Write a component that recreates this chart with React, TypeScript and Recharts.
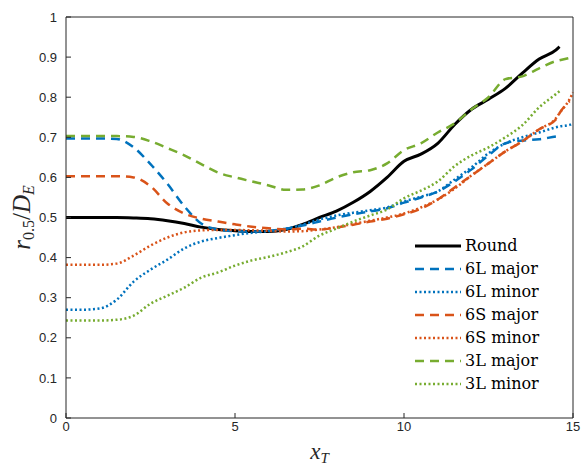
import React from 'react';
import { LineChart, Line, XAxis, YAxis } from 'recharts';

// x_T positions where the profiles were sampled
const xT = [0, 0.5, 1, 1.5, 2, 2.5, 3, 3.5, 4, 4.5, 5, 5.5, 6, 6.5, 7, 7.5, 8, 8.5, 9, 9.5, 10, 10.5, 11, 11.5, 12, 12.5, 13, 13.5, 14, 14.5, 14.6, 14.9, 15];

const round = [0.5, 0.5, 0.5, 0.5, 0.499, 0.497, 0.492, 0.485, 0.476, 0.47, 0.467, 0.465, 0.465, 0.47, 0.483, 0.5, 0.516, 0.538, 0.565, 0.6, 0.64, 0.658, 0.685, 0.732, 0.77, 0.795, 0.822, 0.86, 0.895, 0.918, 0.926, null, null];
const sixLMajor = [0.697, 0.697, 0.697, 0.696, 0.675, 0.633, 0.584, 0.528, 0.485, 0.47, 0.466, 0.465, 0.467, 0.472, 0.48, 0.49, 0.5, 0.508, 0.515, 0.523, 0.537, 0.55, 0.565, 0.59, 0.62, 0.655, 0.685, 0.692, 0.695, 0.702, 0.703, null, null];
const sixLMinor = [0.27, 0.27, 0.273, 0.295, 0.34, 0.37, 0.395, 0.423, 0.44, 0.449, 0.456, 0.462, 0.466, 0.472, 0.482, 0.495, 0.505, 0.512, 0.518, 0.525, 0.54, 0.552, 0.565, 0.595, 0.625, 0.66, 0.685, 0.7, 0.712, 0.725, 0.727, 0.731, 0.735];
const sixSMajor = [0.603, 0.603, 0.603, 0.603, 0.6, 0.578, 0.535, 0.51, 0.497, 0.49, 0.483, 0.477, 0.473, 0.47, 0.472, 0.47, 0.475, 0.482, 0.49, 0.497, 0.508, 0.522, 0.545, 0.575, 0.605, 0.635, 0.665, 0.69, 0.72, 0.745, 0.76, 0.79, null];
const sixSMinor = [0.382, 0.382, 0.382, 0.385, 0.405, 0.43, 0.45, 0.463, 0.468, 0.469, 0.469, 0.468, 0.467, 0.465, 0.466, 0.47, 0.476, 0.484, 0.492, 0.5, 0.51, 0.525, 0.545, 0.572, 0.605, 0.635, 0.665, 0.69, 0.72, 0.748, 0.76, 0.795, 0.812];
const threeLMajor = [0.703, 0.703, 0.703, 0.703, 0.701, 0.69, 0.673, 0.655, 0.633, 0.612, 0.6, 0.59, 0.58, 0.569, 0.57, 0.58, 0.6, 0.613, 0.618, 0.635, 0.668, 0.685, 0.712, 0.735, 0.77, 0.8, 0.845, 0.852, 0.872, 0.89, 0.892, 0.898, null];
const threeLMinor = [0.243, 0.243, 0.243, 0.245, 0.255, 0.285, 0.305, 0.325, 0.35, 0.363, 0.38, 0.393, 0.402, 0.413, 0.428, 0.455, 0.472, 0.49, 0.505, 0.52, 0.548, 0.567, 0.59, 0.628, 0.655, 0.675, 0.7, 0.73, 0.775, 0.808, 0.815, null, null];

const xTicks = [0, 5, 10, 15];
const yTicks = [0, 0.1, 0.2, 0.3, 0.4, 0.5, 0.6, 0.7, 0.8, 0.9, 1];

const series = [
    { key: 'round', name: 'Round', color: '#000000', dash: undefined, width: 3 },
    { key: 'sixLMajor', name: '6L major', color: '#0072BD', dash: '9 6', width: 2.5 },
    { key: 'sixLMinor', name: '6L minor', color: '#0072BD', dash: '2 2.5', width: 2.5 },
    { key: 'sixSMajor', name: '6S major', color: '#D95319', dash: '9 6', width: 2.5 },
    { key: 'sixSMinor', name: '6S minor', color: '#D95319', dash: '2 2.5', width: 2.5 },
    { key: 'threeLMajor', name: '3L major', color: '#77AC30', dash: '9 6', width: 2.5 },
    { key: 'threeLMinor', name: '3L minor', color: '#77AC30', dash: '2 2.5', width: 2.5 },
];

const data = xT.map((x, i) => ({
    x,
    round: round[i],
    sixLMajor: sixLMajor[i],
    sixLMinor: sixLMinor[i],
    sixSMajor: sixSMajor[i],
    sixSMinor: sixSMinor[i],
    threeLMajor: threeLMajor[i],
    threeLMinor: threeLMinor[i],
}));

const axisColor = '#262626';
const tickFont = { fontFamily: 'Liberation Sans, Arial, sans-serif', fontSize: 13, fill: axisColor };

const YLabel = ({ viewBox }: any) => {
    const cx = viewBox.x + 30;
    const cy = viewBox.y + viewBox.height / 2;
    return (
        <text
            x={cx}
            y={cy}
            transform={`rotate(-90, ${cx}, ${cy})`}
            textAnchor="middle"
            fontFamily="Liberation Serif, serif"
            fontSize={25}
            fill={axisColor}
        >
            <tspan fontStyle="italic">r</tspan>
            <tspan fontSize={16} dy={4}>0.5</tspan>
            <tspan dy={-4}>/</tspan>
            <tspan fontStyle="italic">D</tspan>
            <tspan fontStyle="italic" fontSize={16} dy={4}>E</tspan>
        </text>
    );
};

const XLabel = ({ viewBox }: any) => {
    const cx = viewBox.x + viewBox.width / 2;
    const cy = viewBox.y + 41;
    return (
        <text x={cx} y={cy} textAnchor="middle" fontFamily="Liberation Serif, serif" fontSize={23} fill={axisColor}>
            <tspan fontStyle="italic">x</tspan>
            <tspan fontStyle="italic" fontSize={15} dy={4}>T</tspan>
        </text>
    );
};

const LegendBox = () => (
    <div style={{ position: 'absolute', left: 415, top: 234, fontFamily: 'DejaVu Serif, serif', fontSize: 16, color: '#000' }}>
        {series.map(s => (
            <div key={s.key} style={{ display: 'flex', alignItems: 'center', height: 23 }}>
                <svg width={46} height={10} style={{ marginRight: 4 }}>
                    <line x1={0} y1={5} x2={46} y2={5} stroke={s.color} strokeWidth={s.width} strokeDasharray={s.dash} />
                </svg>
                <span>{s.name}</span>
            </div>
        ))}
    </div>
);

export default function App() {
    return (
        <div style={{ position: 'absolute', left: 0, top: 0, width: 582, height: 467, background: '#fff' }}>
            <LineChart width={582} height={467} data={data} margin={{ top: 0, right: 0, bottom: 0, left: 0 }}>
                <XAxis
                    xAxisId="bottom"
                    dataKey="x"
                    type="number"
                    domain={[0, 15]}
                    ticks={xTicks}
                    height={49}
                    stroke={axisColor}
                    tickSize={-5}
                    tickMargin={9}
                    tick={tickFont}
                    label={<XLabel />}
                />
                <XAxis
                    xAxisId="top"
                    orientation="top"
                    dataKey="x"
                    type="number"
                    domain={[0, 15]}
                    ticks={xTicks}
                    height={17}
                    stroke={axisColor}
                    tickSize={-5}
                    tick={false}
                />
                <YAxis
                    yAxisId="left"
                    type="number"
                    domain={[0, 1]}
                    ticks={yTicks}
                    width={66}
                    stroke={axisColor}
                    tickSize={-5}
                    tickMargin={14}
                    tick={tickFont}
                    label={<YLabel />}
                />
                <YAxis
                    yAxisId="right"
                    orientation="right"
                    type="number"
                    domain={[0, 1]}
                    ticks={yTicks}
                    width={9}
                    stroke={axisColor}
                    tickSize={-5}
                    tick={false}
                />
                {series.map(s => (
                    <Line
                        key={s.key}
                        xAxisId="bottom"
                        yAxisId="left"
                        dataKey={s.key}
                        name={s.name}
                        type="monotone"
                        stroke={s.color}
                        strokeWidth={s.width}
                        strokeDasharray={s.dash}
                        dot={false}
                        activeDot={false}
                        isAnimationActive={false}
                    />
                ))}
            </LineChart>
            <LegendBox />
        </div>
    );
}
